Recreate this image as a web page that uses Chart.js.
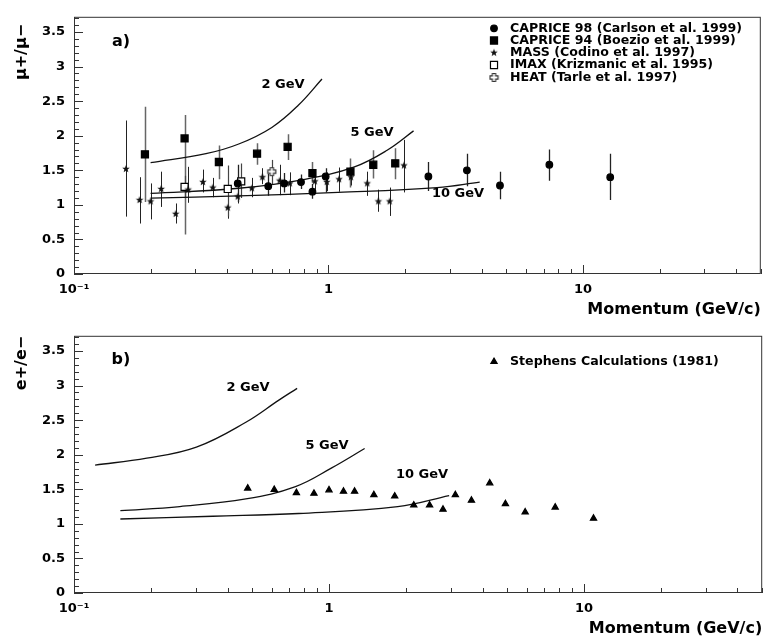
<!DOCTYPE html>
<html>
<head>
<meta charset="utf-8">
<script src="https://cdn.jsdelivr.net/npm/chart.js@4.4.1/dist/chart.umd.min.js"></script>
<style>
  html, body { margin: 0; padding: 0; background: #fff; }
  #wrap { position: relative; width: 767px; height: 638px; }
  canvas { position: absolute; left: 0; }
</style>
</head>
<body>
<div id="wrap">
  <canvas id="muon" width="767" height="319" style="top:0"></canvas>
  <canvas id="elec" width="767" height="319" style="top:319px"></canvas>
</div>
<script>
// axis ticks
const yTicks = [0, 0.5, 1, 1.5, 2, 2.5, 3, 3.5];
const xMajor = [0.1, 1, 10];
const xMajorLabels = ["10\u207B\u00B9", "1", "10"];

// panel a) mu+/mu-
const capr98X = [0.44, 0.58, 0.67, 0.78, 0.865, 0.975, 2.47, 3.5, 4.72, 7.38, 12.8];
const capr98Y = [1.31, 1.27, 1.31, 1.33, 1.19, 1.41, 1.41, 1.50, 1.28, 1.58, 1.40];
const capr98Lo = [1.04, 1.13, 1.18, 1.23, 1.09, 1.18, 1.20, 1.27, 1.08, 1.35, 1.07];
const capr98Hi = [1.58, 1.45, 1.46, 1.44, 1.30, 1.53, 1.62, 1.74, 1.48, 1.80, 1.74];

const capr94X = [0.19, 0.272, 0.371, 0.524, 0.691, 0.865, 1.22, 1.50, 1.83];
const capr94Y = [1.73, 1.96, 1.62, 1.74, 1.84, 1.46, 1.48, 1.58, 1.60];
const capr94Lo = [1.04, 0.57, 1.37, 1.58, 1.65, 1.32, 1.25, 1.38, 1.37];
const capr94Hi = [2.42, 2.30, 1.86, 1.89, 2.02, 1.62, 1.67, 1.79, 1.82];

const massX = [0.16, 0.181, 0.20, 0.22, 0.251, 0.281, 0.321, 0.351, 0.402, 0.44, 0.50, 0.55, 0.643, 0.705, 0.884, 0.985, 1.10, 1.225, 1.42, 1.57, 1.74, 1.98];
const massY = [1.52, 1.07, 1.05, 1.23, 0.87, 1.22, 1.33, 1.25, 0.96, 1.12, 1.24, 1.40, 1.35, 1.31, 1.34, 1.33, 1.37, 1.40, 1.31, 1.05, 1.05, 1.57];
const massLo = [0.83, 0.73, 0.79, 0.97, 0.73, 1.03, 1.18, 1.11, 0.80, 1.02, 1.11, 1.30, 1.14, 1.14, 1.22, 1.20, 1.19, 1.28, 1.13, 0.90, 0.84, 1.18];
const massHi = [2.22, 1.40, 1.31, 1.48, 1.02, 1.55, 1.51, 1.39, 1.10, 1.24, 1.39, 1.53, 1.58, 1.47, 1.47, 1.47, 1.54, 1.52, 1.48, 1.22, 1.25, 1.94];

const imaxX = [0.272, 0.402, 0.454];
const imaxY = [1.26, 1.23, 1.34];
const imaxLo = [1.10, 0.83, 1.10];
const imaxHi = [1.42, 1.57, 1.60];

const heatX = [0.599];
const heatY = [1.48];
const heatLo = [1.30];
const heatHi = [1.65];

// model curves, panel a
const a2X = [0.2, 0.33, 0.444, 0.599, 0.761, 0.943];
const a2Y = [1.61, 1.74, 1.88, 2.12, 2.44, 2.82];
const a5X = [0.2, 0.444, 0.808, 1.265, 1.70, 2.16];
const a5Y = [1.166, 1.24, 1.37, 1.55, 1.79, 2.07];
const a10X = [0.2, 0.444, 1.09, 2.67, 3.93];
const a10Y = [1.096, 1.13, 1.18, 1.25, 1.33];

// panel b) e+/e-
const stephX = [0.48, 0.61, 0.745, 0.873, 1.0, 1.14, 1.26, 1.50, 1.81, 2.15, 2.48, 2.80, 3.13, 3.62, 4.27, 4.92, 5.88, 7.71, 10.9];
const stephY = [1.515, 1.495, 1.45, 1.44, 1.49, 1.47, 1.47, 1.42, 1.40, 1.27, 1.27, 1.21, 1.42, 1.34, 1.59, 1.29, 1.17, 1.24, 1.08];

const b2X = [0.121, 0.193, 0.302, 0.472, 0.636, 0.75];
const b2Y = [1.85, 1.95, 2.11, 2.47, 2.79, 2.96];
const b5X = [0.152, 0.26, 0.472, 0.739, 1.025, 1.38];
const b5Y = [1.19, 1.25, 1.36, 1.54, 1.81, 2.09];
const b10X = [0.152, 0.35, 0.76, 1.86, 2.96];
const b10Y = [1.07, 1.11, 1.15, 1.25, 1.41];

const FONT = "'DejaVu Sans', sans-serif";

function pts(xs, ys) {
  return xs.map((x, i) => ({ x: x, y: ys[i] }));
}

// small marker images
function starImg(r) {
  const c = document.createElement("canvas");
  c.width = c.height = 2 * Math.ceil(r) + 2;
  const g = c.getContext("2d");
  const m = c.width / 2;
  g.beginPath();
  for (let i = 0; i < 10; i++) {
    const rr = i % 2 ? r * 0.42 : r;
    const a = -Math.PI / 2 + i * Math.PI / 5;
    g.lineTo(m + rr * Math.cos(a), m + rr * Math.sin(a));
  }
  g.closePath();
  g.fillStyle = "#111";
  g.fill();
  return c;
}

function openCross(a, w) {
  const c = document.createElement("canvas");
  c.width = c.height = 2 * a + 3;
  const g = c.getContext("2d");
  g.translate(c.width / 2, c.height / 2);
  const p = [[-w, -a], [w, -a], [w, -w], [a, -w], [a, w], [w, w], [w, a], [-w, a], [-w, w], [-a, w], [-a, -w], [-w, -w]];
  g.beginPath();
  p.forEach(q => g.lineTo(q[0], q[1]));
  g.closePath();
  g.fillStyle = "#fff";
  g.fill();
  g.strokeStyle = "#333";
  g.lineWidth = 1.2;
  g.stroke();
  return c;
}

const star = starImg(4);
const cross = openCross(4, 1.6);

function curve(xs, ys) {
  return {
    type: "line", data: pts(xs, ys), showLine: true, pointRadius: 0,
    borderColor: "#111", borderWidth: 1.3, tension: 0.4, fill: false
  };
}

function marks(label, xs, ys, style, r, bg, border, lo, hi, errColor, errWidth) {
  return {
    label: label, data: pts(xs, ys), showLine: false,
    pointStyle: style, pointRadius: r, pointHoverRadius: r,
    backgroundColor: bg, borderColor: border, borderWidth: 1.2,
    errLo: lo, errHi: hi, errColor: errColor, errWidth: errWidth
  };
}

function drawMarker(ctx, ds, x, y) {
  const st = ds.pointStyle;
  if (st instanceof HTMLCanvasElement) {
    ctx.drawImage(st, x - st.width / 2, y - st.height / 2);
    return;
  }
  ctx.fillStyle = ds.backgroundColor;
  ctx.strokeStyle = ds.borderColor;
  ctx.lineWidth = ds.borderWidth;
  Chart.helpers.drawPoint(ctx, { pointStyle: st, radius: ds.pointRadius, borderWidth: ds.borderWidth, rotation: 0 }, x, y);
}

function panelPlugin(cfg) {
  return {
    id: "panel",
    beforeDatasetsDraw(chart) {
      const ctx = chart.ctx, a = chart.chartArea, x = chart.scales.x, y = chart.scales.y;
      ctx.save();
      ctx.strokeStyle = "#333";
      ctx.lineWidth = 1;
      ctx.strokeRect(a.left + 0.5, a.top + 0.5, a.right - a.left - 1, a.bottom - a.top - 1);
      ctx.beginPath();
      for (let k = 0; k <= 37; k++) {
        const py = Math.round(y.getPixelForValue(k / 10)) + 0.5;
        const len = k % 5 === 0 ? 9 : 5;
        ctx.moveTo(a.left, py);
        ctx.lineTo(a.left + len, py);
      }
      for (const d of xMajor) {
        for (let m = 1; m < 10; m++) {
          const v = d * m;
          if (v > 50) break;
          const px = Math.round(x.getPixelForValue(v)) + 0.5;
          ctx.moveTo(px, a.bottom);
          ctx.lineTo(px, a.bottom - (m === 1 ? 9 : 5));
        }
      }
      ctx.stroke();
      // error bars
      chart.data.datasets.forEach(ds => {
        if (!ds.errLo) return;
        ctx.strokeStyle = ds.errColor;
        ctx.lineWidth = ds.errWidth;
        ctx.beginPath();
        ds.data.forEach((p, i) => {
          const px = Math.round(x.getPixelForValue(p.x)) + 0.5;
          ctx.moveTo(px, y.getPixelForValue(ds.errLo[i]));
          ctx.lineTo(px, y.getPixelForValue(ds.errHi[i]));
        });
        ctx.stroke();
      });
      ctx.restore();
    },
    afterDatasetsDraw(chart) {
      const ctx = chart.ctx;
      ctx.save();
      ctx.fillStyle = "#000";
      ctx.textBaseline = "middle";
      // y title
      ctx.save();
      ctx.translate(22, cfg.yTitleY);
      ctx.rotate(-Math.PI / 2);
      ctx.textAlign = "center";
      ctx.font = "bold 16px " + FONT;
      ctx.fillText(cfg.yTitle, 0, 0);
      ctx.restore();
      // panel tag
      ctx.textAlign = "center";
      ctx.font = "bold 16px " + FONT;
      ctx.fillText(cfg.tag, 121, cfg.tagY);
      // curve labels
      ctx.font = "bold 13px " + FONT;
      cfg.curveLabels.forEach(c => ctx.fillText(c[0], c[1], c[2]));
      // legend
      ctx.textAlign = "left";
      ctx.font = "bold 12.6px " + FONT;
      cfg.legendY.forEach((ly, i) => {
        const ds = chart.data.datasets[cfg.legendIdx[i]];
        drawMarker(ctx, ds, 494, ly);
        ctx.fillStyle = "#000";
        ctx.fillText(ds.label, 510, ly);
      });
      ctx.restore();
    }
  };
}

function makePanel(id, datasets, cfg) {
  return new Chart(document.getElementById(id), {
    type: "scatter",
    data: { datasets: datasets },
    options: {
      responsive: false,
      animation: false,
      devicePixelRatio: 1,
      events: [],
      layout: { padding: { top: 9, right: 1, left: 0, bottom: 0 } },
      plugins: { legend: { display: false }, tooltip: { enabled: false } },
      scales: {
        x: {
          type: "logarithmic", min: 0.1, max: 50,
          afterFit: s => { s.height = 45; },
          afterBuildTicks: s => { s.ticks = xMajor.map(v => ({ value: v, major: true })); },
          grid: { display: false, drawTicks: false },
          border: { display: false },
          ticks: {
            autoSkip: false, maxRotation: 0, padding: 8, color: "#000",
            font: { family: FONT, weight: "bold", size: 13 },
            callback: (v, i) => xMajorLabels[i]
          },
          title: {
            display: true, text: "Momentum (GeV/c)", align: "end", color: "#000",
            font: { family: FONT, weight: "bold", size: 16 }, padding: 0
          }
        },
        y: {
          type: "linear", min: 0, max: 3.72,
          afterFit: s => { s.width = 74; },
          afterBuildTicks: s => { s.ticks = yTicks.map(v => ({ value: v })); },
          grid: { display: false, drawTicks: false },
          border: { display: false },
          ticks: {
            padding: 9, color: "#000",
            font: { family: FONT, weight: "bold", size: 13 },
            callback: v => String(v)
          }
        }
      }
    },
    plugins: [panelPlugin(cfg)]
  });
}

makePanel("muon", [
  marks("CAPRICE 98 (Carlson et al. 1999)", capr98X, capr98Y, "circle", 3.3, "#000", "#000", capr98Lo, capr98Hi, "#222", 1.3),
  marks("CAPRICE 94 (Boezio et al. 1999)", capr94X, capr94Y, "rect", 5, "#000", "#000", capr94Lo, capr94Hi, "#666", 1.5),
  marks("MASS (Codino et al. 1997)", massX, massY, star, 4, "#000", "#000", massLo, massHi, "#222", 1),
  marks("IMAX (Krizmanic et al. 1995)", imaxX, imaxY, "rect", 5, "#fff", "#000", imaxLo, imaxHi, "#444", 1.2),
  marks("HEAT (Tarle et al. 1997)", heatX, heatY, cross, 4, "#fff", "#333", heatLo, heatHi, "#444", 1.2),
  curve(a2X, a2Y),
  curve(a5X, a5Y),
  curve(a10X, a10Y)
], {
  yTitle: "\u03BC+/\u03BC\u2212", yTitleY: 52, tag: "a)", tagY: 42,
  curveLabels: [["2 GeV", 283, 85], ["5 GeV", 372, 133], ["10 GeV", 458, 194]],
  legendIdx: [0, 1, 2, 3, 4],
  legendY: [28.3, 40.5, 52.7, 65, 77.5]
});

makePanel("elec", [
  marks("Stephens Calculations (1981)", stephX, stephY, "triangle", 3.6, "#000", "#000", null, null, "#000", 1),
  curve(b2X, b2Y),
  curve(b5X, b5Y),
  curve(b10X, b10Y)
], {
  yTitle: "e+/e\u2212", yTitleY: 44, tag: "b)", tagY: 41,
  curveLabels: [["2 GeV", 248, 69], ["5 GeV", 327, 127], ["10 GeV", 422, 156]],
  legendIdx: [0],
  legendY: [42.7]
});
</script>
</body>
</html>
